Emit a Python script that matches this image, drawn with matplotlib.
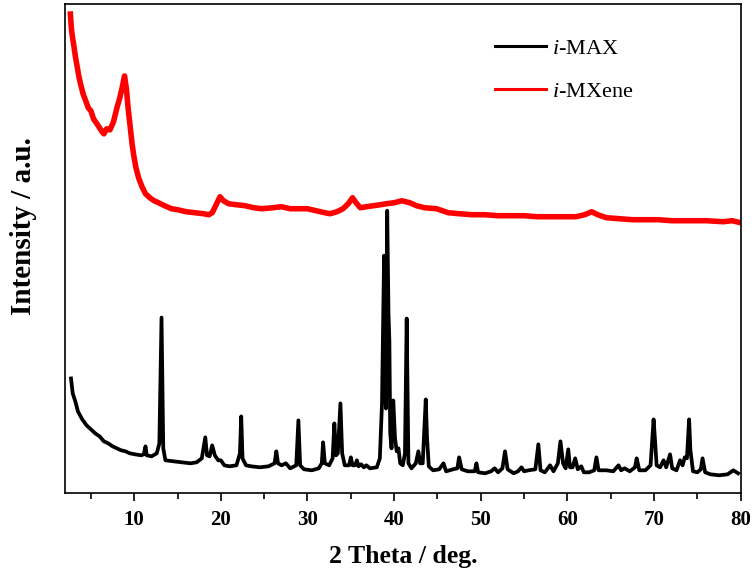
import numpy as np
import matplotlib
matplotlib.use('Agg')
import matplotlib.pyplot as plt

plt.rcParams['font.family'] = ['Liberation Serif', 'DejaVu Serif']
plt.rcParams['mathtext.fontset'] = 'custom'
plt.rcParams['mathtext.rm'] = 'Liberation Serif'
plt.rcParams['mathtext.it'] = 'Liberation Serif:italic'

# i-MAX pattern (2 theta, intensity a.u.)
max_theta = [2.7, 2.9, 3.2, 3.5, 4.0, 4.5, 5.0, 5.5, 6.0, 6.5, 7.0, 7.5, 8.0, 8.5,
             9.0, 9.5, 10.1, 10.8, 11.1, 11.3, 11.45, 12.0, 12.6, 12.9, 13.15, 13.35,
             13.6, 14.5, 15.5, 16.5, 17.2, 17.8, 18.2, 18.4, 18.7, 19.0, 19.3, 19.7,
             20.0, 20.4, 21.0, 21.8, 22.2, 22.35, 22.5, 22.9, 23.5, 24.5, 25.5, 26.2,
             26.4, 26.6, 27.0, 27.5, 28.0, 28.7, 28.95, 29.15, 29.6, 30.5, 31.3, 31.65,
             31.8, 32.0, 32.5, 32.9, 33.1, 33.3, 33.5, 33.8, 34.0, 34.3, 34.8, 35.0,
             35.2, 35.5, 35.7, 35.9, 36.2, 36.5, 36.8, 37.2, 38.0, 38.35, 38.6, 38.84,
             38.95, 39.05, 39.2, 39.35, 39.45, 39.55, 39.7, 39.9, 40.1, 40.3, 40.5,
             40.7, 41.0, 41.25, 41.45, 41.65, 42.0, 42.5, 42.8, 43.0, 43.3, 43.65,
             43.8, 44.0, 44.5, 45.2, 45.7, 46.0, 46.8, 47.3, 47.5, 47.8, 48.5, 49.3,
             49.5, 49.7, 50.5, 51.2, 51.6, 52.0, 52.5, 52.8, 53.1, 53.8, 54.3, 54.7,
             55.0, 55.5, 56.3, 56.65, 56.9, 57.4, 58.0, 58.4, 58.9, 59.2, 59.5, 59.8,
             60.1, 60.3, 60.6, 60.9, 61.2, 61.6, 61.9, 62.5, 63.1, 63.35, 63.6, 64.5,
             65.3, 65.9, 66.2, 66.6, 67.2, 67.8, 68.0, 68.3, 69.0, 69.6, 69.95, 70.1,
             70.3, 70.7, 71.1, 71.4, 71.85, 72.1, 72.6, 73.0, 73.3, 73.55, 73.8, 74.05,
             74.2, 74.5, 75.0, 75.4, 75.6, 75.9, 76.5, 77.5, 78.5, 79.15, 79.7]
max_int = [115, 100, 92, 82, 74, 68, 64, 60, 57, 52, 50, 47, 45, 43,
           42, 40, 39, 38, 39, 47, 38, 37, 40, 50, 176, 45,
           33, 32, 31, 30, 31, 35, 56, 38, 37, 48, 38, 33,
           33, 28, 27, 28, 40, 77, 35, 28, 27, 26, 27, 30,
           42, 30, 28, 30, 25, 28, 73, 28, 24, 23, 25, 30,
           51, 30, 28, 35, 70, 38, 40, 90, 40, 28, 28, 36,
           28, 28, 33, 27, 29, 26, 28, 25, 26, 35, 90, 238,
           120, 85, 283, 180, 153, 60, 45, 93, 55, 42, 45,
           30, 28, 40, 175, 30, 25, 30, 42, 30, 30, 94,
           55, 27, 23, 24, 30, 22, 24, 25, 36, 24, 22, 22,
           30, 21, 20, 22, 25, 21, 25, 42, 24, 20, 22, 26,
           22, 23, 24, 49, 23, 21, 28, 22, 30, 52, 30, 25,
           44, 26, 26, 35, 24, 27, 21, 21, 23, 36, 23, 23,
           22, 28, 23, 25, 22, 26, 35, 23, 23, 28, 74, 55,
           28, 26, 33, 26, 39, 25, 23, 33, 28, 36, 35, 74,
           43, 22, 21, 24, 35, 21, 19, 18, 19, 23, 20]

# i-MXene pattern
mx_theta = [2.63, 2.75, 2.9, 3.0, 3.2, 3.4, 3.6, 3.8, 4.1, 4.4, 4.7, 5.0, 5.3, 5.7,
            6.0, 6.3, 6.5, 6.8, 7.2, 7.6, 8.0, 8.3, 8.6, 8.88, 9.1, 9.3, 9.55, 9.75,
            9.95, 10.2, 10.5, 10.9, 11.3, 11.8, 12.3, 12.8, 13.5, 14.3, 15.0, 16.0,
            17.0, 18.0, 18.6, 19.0, 19.4, 19.9, 20.3, 20.9, 21.8, 22.8, 23.8, 24.7,
            26.0, 27.0, 28.0, 29.0, 30.0, 31.0, 32.0, 32.6, 33.4, 34.1, 34.7, 35.2,
            35.6, 36.1, 36.8, 37.6, 38.4, 39.1, 40.0, 40.9, 41.8, 42.6, 43.5, 44.9,
            46.25, 47.5, 49.0, 50.5, 52.0, 53.5, 55.0, 56.5, 58.0, 59.5, 61.0, 62.0,
            62.8, 63.5, 64.5, 66.0, 67.5, 69.0, 70.5, 72.0, 74.0, 76.0, 78.0, 79.0, 80.0]
mx_int = [480, 465, 455, 450, 438, 428, 418, 410, 400, 393, 386, 383, 375, 370,
          366, 362, 360, 365, 364, 372, 386, 395, 406, 418, 405, 385, 366, 350,
          338, 326, 316, 307, 300, 296, 293, 291, 288, 285, 284, 282,
          281, 280, 279, 281, 288, 297, 293, 290, 289, 288, 286, 285,
          286, 287, 285, 285, 285, 283, 281, 280, 282, 285, 290, 296,
          291, 286, 287, 288, 289, 290, 291, 293, 291, 288, 286, 285,
          281, 280, 279, 279, 278, 278, 278, 277, 277, 277, 277, 279,
          282, 279, 276, 275, 274, 274, 274, 273, 273, 273, 272, 273, 271]

fig = plt.figure(figsize=(7.55, 5.81), dpi=100)
ax = fig.add_axes([0.086, 0.151, 0.895, 0.842])

ax.plot(max_theta, max_int, color='black', lw=2.7, label=r'$\mathit{i}$-MAX')
ax.plot(mx_theta, mx_int, color='red', lw=4.0, label=r'$\mathit{i}$-MXene')

ax.set_xlim(2, 80)
ax.set_ylim(0, 490)
ax.set_xticks(np.arange(10, 81, 10))
ax.set_xticks(np.arange(5, 80, 10), minor=True)
ax.set_yticks([])
ax.tick_params(axis='x', which='major', direction='out', length=6, width=1.2,
               labelsize=15, pad=6)
ax.tick_params(axis='x', which='minor', direction='out', length=4, width=1.2)
for lbl in ax.get_xticklabels():
    lbl.set_fontweight('bold')
for sp in ax.spines.values():
    sp.set_linewidth(1.2)

ax.set_xlabel('2 Theta / deg.', fontsize=18.5, fontweight='bold', labelpad=11)
ax.set_ylabel('Intensity / a.u.', fontsize=21, fontweight='bold')
ax.yaxis.set_label_coords(-0.041, 0.546)

leg = ax.legend(loc='upper left', bbox_to_anchor=(0.636, 0.93), frameon=False,
                fontsize=16, handlelength=2.3, handletextpad=0.3, labelspacing=1.0,
                borderpad=0, borderaxespad=0)
for h in leg.get_lines():
    h.set_linewidth(2.2)

fig.savefig('out.png', dpi=100)
